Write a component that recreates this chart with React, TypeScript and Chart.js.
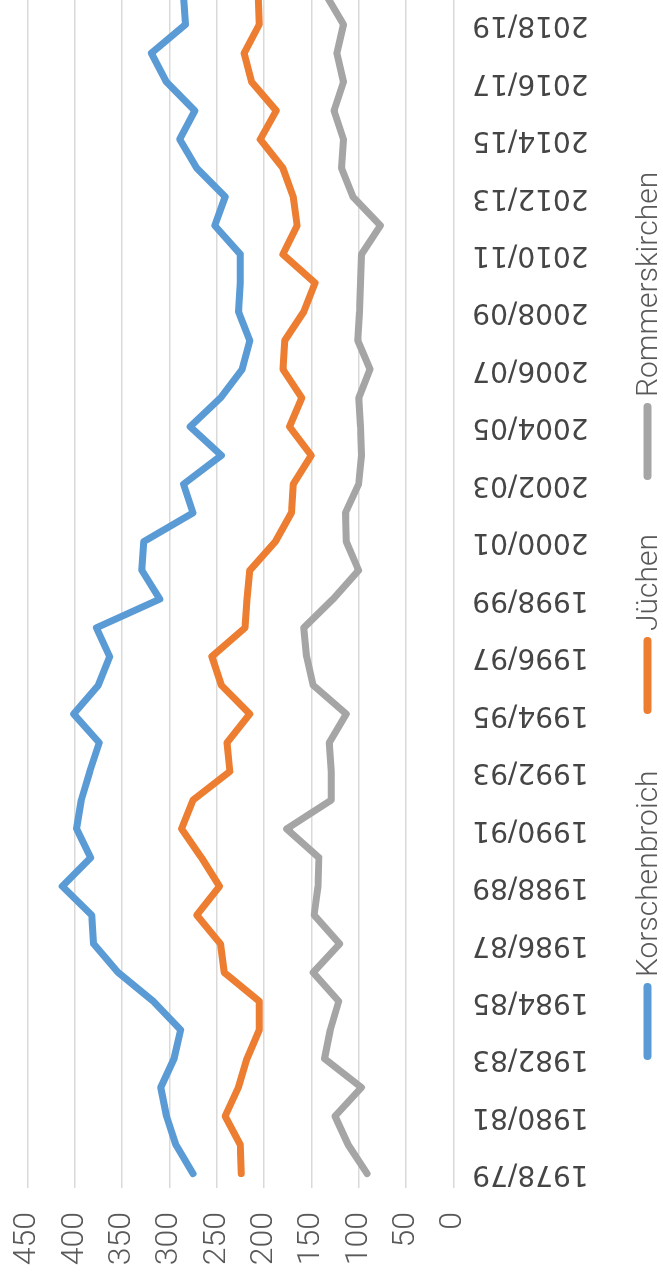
import { useEffect, useRef } from "react";
import { Chart, registerables } from "chart.js";

Chart.register(...registerables);

const seasons = [
  "1978/79", "1979/80", "1980/81", "1981/82", "1982/83", "1983/84", "1984/85",
  "1985/86", "1986/87", "1987/88", "1988/89", "1989/90", "1990/91", "1991/92",
  "1992/93", "1993/94", "1994/95", "1995/96", "1996/97", "1997/98", "1998/99",
  "1999/00", "2000/01", "2001/02", "2002/03", "2003/04", "2004/05", "2005/06",
  "2006/07", "2007/08", "2008/09", "2009/10", "2010/11", "2011/12", "2012/13",
  "2013/14", "2014/15", "2015/16", "2016/17", "2017/18", "2018/19", "2019/20",
];

const korschenbroich = [
  275, 293, 303, 309, 295, 288, 317, 354, 380, 382, 413, 383, 398, 393,
  384, 374, 401, 375, 363, 377, 310, 329, 327, 275, 285, 245, 278, 246,
  223, 215, 227, 225, 225, 252, 241, 271, 289, 273, 303, 319, 283, 285,
];

const juechen = [
  224, 225, 241, 227, 218, 205, 205, 242, 246, 271, 247, 266, 287, 275,
  236, 239, 215, 245, 255, 220, 218, 215, 188, 171, 169, 150, 173, 160,
  180, 178, 158, 146, 180, 165, 169, 180, 204, 187, 213, 221, 205, 206,
];

const rommerskirchen = [
  91, 111, 125, 97, 136, 130, 121, 148, 120, 147, 143, 142, 176, 129,
  129, 131, 113, 148, 155, 158, 127, 100, 113, 114, 100, 97, 98, 100,
  88, 101, 99, 98, 97, 77, 106, 118, 116, 126, 116, 123, 116, 134,
];

const seriesNames = ["Korschenbroich", "Jüchen", "Rommerskirchen"];
const seriesColors = ["#5B9BD5", "#ED7D31", "#A5A5A5"];
const valueMin = 0;
const valueMax = 450;
const valueStep = 50;

// Chart is drawn in its natural (unrotated) orientation, then rotated -90deg.
const W = 1340;
const H = 663;
const VIEW_W = 663;
const VIEW_H = 1285;

const legendStarts = [225, 571, 805];

const legendPlugin = {
  id: "rotatedLegend",
  afterDraw(chart: any) {
    const ctx = chart.ctx as CanvasRenderingContext2D;
    ctx.save();
    ctx.font = '300 30px Roboto, "Noto Sans", sans-serif';
    ctx.textBaseline = "alphabetic";
    ctx.textAlign = "left";
    chart.data.datasets.forEach((ds: any, i: number) => {
      const x0 = legendStarts[i];
      ctx.strokeStyle = ds.borderColor;
      ctx.lineWidth = 8;
      ctx.lineCap = "round";
      ctx.beginPath();
      ctx.moveTo(x0 + 4, 647.5);
      ctx.lineTo(x0 + 73, 647.5);
      ctx.stroke();
      ctx.fillStyle = "#595959";
      ctx.fillText(ds.label, x0 + 83, 657);
    });
    ctx.restore();
  },
};

export default function App() {
  const ref = useRef<HTMLCanvasElement | null>(null);

  useEffect(() => {
    if (!ref.current) return;
    const data = [korschenbroich, juechen, rommerskirchen];
    const chart = new Chart(ref.current, {
      type: "line",
      data: {
        labels: seasons,
        datasets: data.map((values, i) => ({
          label: seriesNames[i],
          data: values,
          borderColor: seriesColors[i],
          backgroundColor: seriesColors[i],
          borderWidth: 7,
          pointRadius: 0,
          pointHoverRadius: 0,
          tension: 0,
          borderJoinStyle: "round" as const,
          borderCapStyle: "round" as const,
          fill: false,
        })),
      },
      options: {
        responsive: false,
        devicePixelRatio: 1,
        animation: false,
        layout: { padding: { top: 27.3, right: W - 1303.6, left: 0, bottom: 0 } },
        plugins: {
          legend: { display: false },
          tooltip: { enabled: false },
        },
        scales: {
          x: {
            type: "category",
            offset: true,
            grid: { display: false, drawTicks: false },
            border: { display: false },
            ticks: {
              autoSkip: false,
              minRotation: 90,
              maxRotation: 90,
              padding: 19,
              color: "#454545",
              font: { family: '"DejaVu Sans", sans-serif', size: 28 },
              callback: function (this: any, value: any, index: number) {
                return index % 2 === 0 ? this.getLabelForValue(value) : "";
              },
            },
            afterFit: (scale: any) => {
              scale.height = H - 453.3;
              scale.paddingLeft = 0;
              scale.paddingRight = 0;
            },
          },
          y: {
            min: valueMin,
            max: valueMax,
            grid: { color: "#D9D9D9", lineWidth: 1.5, drawTicks: false },
            border: { display: false },
            ticks: {
              stepSize: valueStep,
              padding: 24,
              color: "#595959",
              font: { family: 'Roboto, "Noto Sans", sans-serif', size: 32, weight: "300" as any },
            },
            afterFit: (scale: any) => {
              scale.width = 97;
              scale.paddingTop = 0;
              scale.paddingBottom = 0;
            },
          },
        },
      },
      plugins: [legendPlugin],
    });
    return () => chart.destroy();
  }, []);

  return (
    <div
      style={{
        position: "fixed",
        left: 0,
        top: 0,
        width: VIEW_W,
        height: VIEW_H,
        overflow: "hidden",
        background: "#ffffff",
      }}
    >
      <div
        style={{
          position: "absolute",
          left: 0,
          top: 0,
          width: W,
          height: H,
          transformOrigin: "0 0",
          transform: `translate(0px, ${VIEW_H}px) rotate(-90deg)`,
        }}
      >
        <canvas ref={ref} width={W} height={H} style={{ display: "block", width: W, height: H }} />
      </div>
    </div>
  );
}
